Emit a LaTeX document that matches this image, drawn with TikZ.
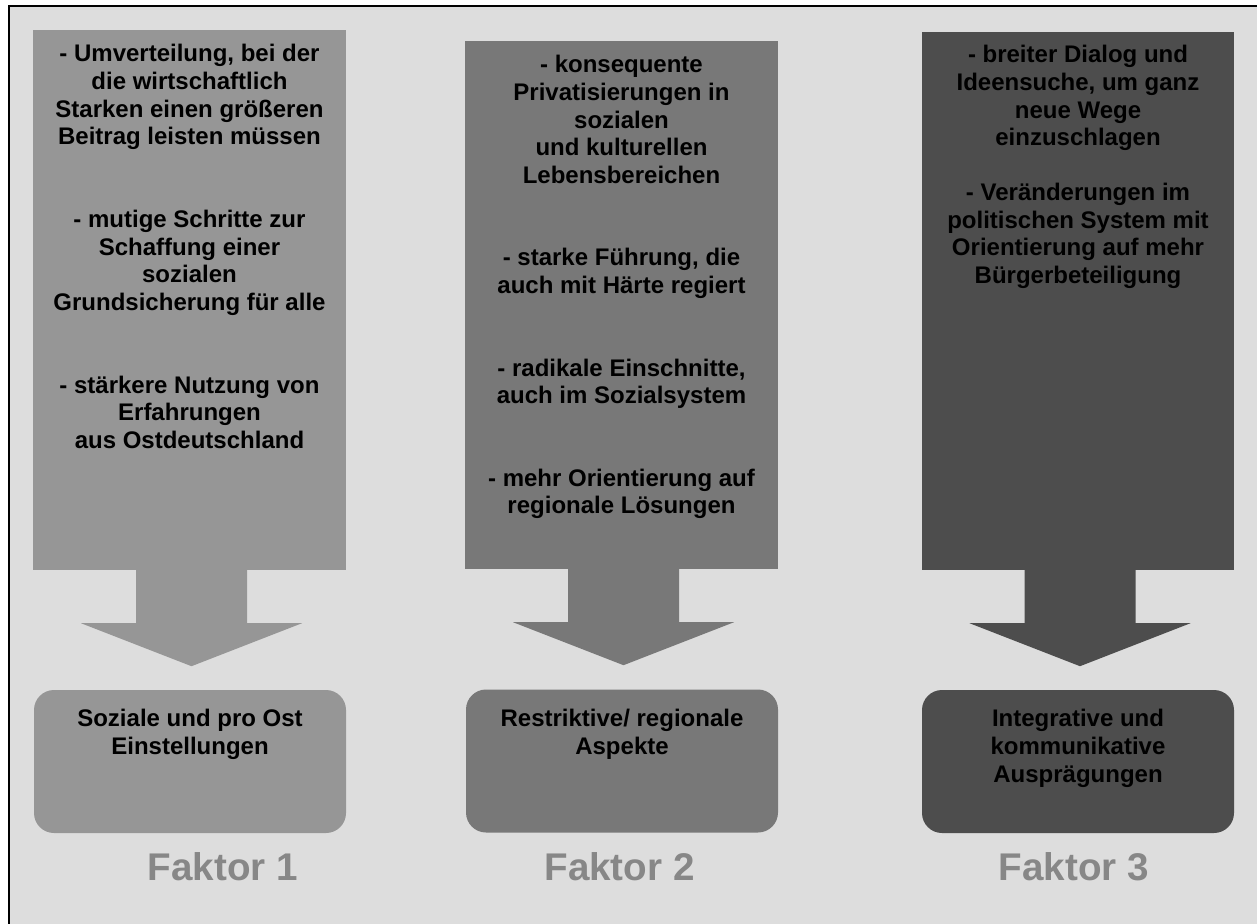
\documentclass[tikz,border=0pt]{standalone}
\usepackage{fontspec}
\setmainfont{Liberation Sans}
\usetikzlibrary{positioning,calc}

\definecolor{c1}{HTML}{969696}
\definecolor{c2}{HTML}{787878}
\definecolor{c3}{HTML}{4D4D4D}
\definecolor{bg}{HTML}{DDDDDD}
\definecolor{fk}{HTML}{878787}

\begin{document}
\begin{tikzpicture}[
    x=1pt, y=-1pt,
    col/.style={rectangle, inner sep=0pt, minimum width=313pt},
    res/.style={rectangle, rounded corners=20pt, inner sep=0pt, minimum width=312pt, minimum height=143pt},
    txt/.style={anchor=north, inner sep=0pt, align=center, font=\fontsize{24}{27.6}\selectfont\bfseries},
    fak/.style={anchor=base, inner sep=0pt, text=fk, font=\fontsize{38.6}{44}\selectfont\bfseries}
]
\useasboundingbox (0,0) rectangle (1257,923);
\clip (0,0) rectangle (1257,923);
\fill[white] (0,0) rectangle (1257,923);
\draw[line width=2pt, fill=bg] (9,6) rectangle (1275,940);

% Massnahmen
\node[col, fill=c1, minimum height=540pt] (m1) at (189.5,300) {};
\node[col, fill=c2, minimum height=528pt] (m2) at (621.5,305) {};
\node[col, fill=c3, minimum height=538pt, minimum width=312pt] (m3) at (1078,301) {};

\node[txt, below=14.5pt of m1.north] (t1) {- Umverteilung, bei der\\die wirtschaftlich\\Starken einen größeren\\Beitrag leisten müssen\\[55.2pt]
  - mutige Schritte zur\\Schaffung einer\\sozialen\\Grundsicherung für alle\\[55.2pt]
  - stärkere Nutzung von\\Erfahrungen\\aus Ostdeutschland};
\node[txt, below=14.5pt of m2.north] (t2) {- konsequente\\Privatisierungen in\\sozialen\\und kulturellen\\Lebensbereichen\\[55pt]
  - starke Führung, die\\auch mit Härte regiert\\[55pt]
  - radikale Einschnitte,\\auch im Sozialsystem\\[55pt]
  - mehr Orientierung auf\\regionale Lösungen};
\node[txt, below=13.5pt of m3.north] (t3) {- breiter Dialog und\\Ideensuche, um ganz\\neue Wege\\einzuschlagen\\[27.3pt]
  - Veränderungen im\\politischen System mit\\Orientierung auf mehr\\Bürgerbeteiligung};

% Block-Pfeile
\foreach \i in {1,2,3} {
  \fill[c\i] ($(m\i.south)+(-53.5,-1)$) -- ($(m\i.south)+(-53.5,53)$) -- ($(m\i.south)+(-108.5,53)$)
    -- ($(m\i.south)+(2,96)$) -- ($(m\i.south)+(112.5,53)$) -- ($(m\i.south)+(57.5,53)$)
    -- ($(m\i.south)+(57.5,-1)$) -- cycle;
}

% Ergebnisse
\node[res, fill=c1] (e1) at (190,761.5) {};
\node[res, fill=c2] (e2) at (622,761) {};
\node[res, fill=c3] (e3) at (1078,761.5) {};

\node[txt, below=19.5pt of e1.north] (r1) {Soziale und pro Ost\\Einstellungen};
\node[txt, below=20pt of e2.north] (r2) {Restriktive/ regionale\\Aspekte};
\node[txt, below=19.5pt of e3.north] (r3) {Integrative und\\kommunikative\\Ausprägungen};

\node[fak] (f1) at (223,880) {Faktor 1};
\node[fak] (f2) at (619.5,880) {Faktor 2};
\node[fak] (f3) at (1074,880) {Faktor 3};
\end{tikzpicture}
\end{document}
